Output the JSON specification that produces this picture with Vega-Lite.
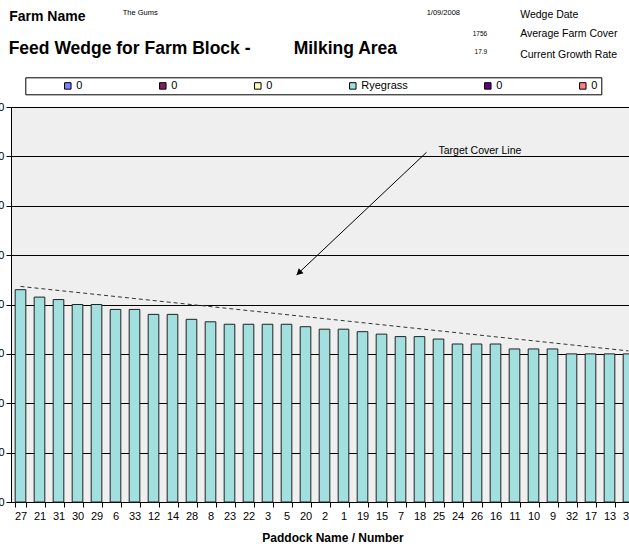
{
  "$schema": "https://vega.github.io/schema/vega-lite/v6.json",
  "width": 627,
  "height": 395,
  "autosize": {"type": "none"},
  "padding": {"left": 11, "top": 107, "right": -9, "bottom": 42},
  "background": "white",
  "config": {
    "font": "Liberation Sans",
    "view": {"stroke": "black", "strokeWidth": 1, "fill": "#efefef"},
    "axis": {"labelFont": "Liberation Sans", "titleFont": "Liberation Sans", "labelColor": "black", "titleColor": "black", "domainColor": "black", "tickColor": "black", "domainWidth": 1, "tickWidth": 1}
  },
  "datasets": {
    "wedge": [
      {"paddock": "27", "cover": 2150, "species": "Ryegrass"},
      {"paddock": "21", "cover": 2075, "species": "Ryegrass"},
      {"paddock": "31", "cover": 2050, "species": "Ryegrass"},
      {"paddock": "30", "cover": 2000, "species": "Ryegrass"},
      {"paddock": "29", "cover": 2000, "species": "Ryegrass"},
      {"paddock": "6", "cover": 1950, "species": "Ryegrass"},
      {"paddock": "33", "cover": 1950, "species": "Ryegrass"},
      {"paddock": "12", "cover": 1900, "species": "Ryegrass"},
      {"paddock": "14", "cover": 1900, "species": "Ryegrass"},
      {"paddock": "28", "cover": 1850, "species": "Ryegrass"},
      {"paddock": "8", "cover": 1825, "species": "Ryegrass"},
      {"paddock": "23", "cover": 1800, "species": "Ryegrass"},
      {"paddock": "22", "cover": 1800, "species": "Ryegrass"},
      {"paddock": "3", "cover": 1800, "species": "Ryegrass"},
      {"paddock": "5", "cover": 1800, "species": "Ryegrass"},
      {"paddock": "20", "cover": 1775, "species": "Ryegrass"},
      {"paddock": "2", "cover": 1750, "species": "Ryegrass"},
      {"paddock": "1", "cover": 1750, "species": "Ryegrass"},
      {"paddock": "19", "cover": 1725, "species": "Ryegrass"},
      {"paddock": "15", "cover": 1700, "species": "Ryegrass"},
      {"paddock": "7", "cover": 1675, "species": "Ryegrass"},
      {"paddock": "18", "cover": 1675, "species": "Ryegrass"},
      {"paddock": "25", "cover": 1650, "species": "Ryegrass"},
      {"paddock": "24", "cover": 1600, "species": "Ryegrass"},
      {"paddock": "26", "cover": 1600, "species": "Ryegrass"},
      {"paddock": "16", "cover": 1600, "species": "Ryegrass"},
      {"paddock": "11", "cover": 1550, "species": "Ryegrass"},
      {"paddock": "10", "cover": 1550, "species": "Ryegrass"},
      {"paddock": "9", "cover": 1550, "species": "Ryegrass"},
      {"paddock": "32", "cover": 1500, "species": "Ryegrass"},
      {"paddock": "17", "cover": 1500, "species": "Ryegrass"},
      {"paddock": "13", "cover": 1500, "species": "Ryegrass"},
      {"paddock": "34", "cover": 1500, "species": "Ryegrass"}
    ],
    "target": [
      {"paddock": "27", "cover": 2183},
      {"paddock": "34", "cover": 1530}
    ],
    "arrow": [
      {"paddock": "18", "cover": 3541, "paddock_end": "20", "cover_end": 2299}
    ],
    "arrowTip": [
      {"paddock": "20", "cover": 2299}
    ],
    "texts": [
      {"text": "Farm Name", "paddock": "27", "cover": 4874, "role": "heading"},
      {"text": "Feed Wedge for Farm Block -", "paddock": "27", "cover": 4534, "role": "title"},
      {"text": "Milking Area", "paddock": "20", "cover": 4540, "role": "title"},
      {"text": "The Gums", "paddock": "33", "cover": 4932, "role": "value"},
      {"text": "1/09/2008", "paddock": "25", "cover": 4932, "role": "value"},
      {"text": "1756", "paddock": "16", "cover": 4714, "role": "number"},
      {"text": "17.9", "paddock": "16", "cover": 4532, "role": "number"},
      {"text": "Wedge Date", "paddock": "10", "cover": 4906, "role": "field"},
      {"text": "Average Farm Cover", "paddock": "10", "cover": 4704, "role": "field"},
      {"text": "Current Growth Rate", "paddock": "10", "cover": 4496, "role": "field"},
      {"text": "Target Cover Line", "paddock": "25", "cover": 3554, "role": "note"}
    ]
  },
  "encoding": {
    "x": {
      "field": "paddock",
      "type": "nominal",
      "scale": {
        "domain": ["27", "21", "31", "30", "29", "6", "33", "12", "14", "28", "8", "23", "22", "3", "5", "20", "2", "1", "19", "15", "7", "18", "25", "24", "26", "16", "11", "10", "9", "32", "17", "13", "34"],
        "paddingInner": 0.44,
        "paddingOuter": 0.22
      },
      "axis": {
        "title": "Paddock Name / Number",
        "titleFontSize": 12,
        "titleFontWeight": "bold",
        "titlePadding": 11,
        "titleX": 321.5,
        "labelFontSize": 11,
        "labelAngle": 0,
        "labelPadding": 3,
        "labelOverlap": false,
        "tickSize": 5,
        "tickBand": "extent",
        "grid": false
      }
    },
    "y": {
      "field": "cover",
      "type": "quantitative",
      "scale": {"domain": [0, 4000], "nice": false},
      "axis": {
        "title": null,
        "values": [0, 500, 1000, 1500, 2000, 2500, 3000, 3500, 4000],
        "format": "d",
        "grid": true,
        "gridColor": "black",
        "gridOpacity": 1,
        "gridWidth": 1,
        "tickSize": 5,
        "labelPadding": 2,
        "labelFontSize": 11
      }
    }
  },
  "layer": [
    {
      "data": {"name": "wedge"},
      "mark": {"type": "bar", "stroke": "#222222", "strokeWidth": 1},
      "encoding": {
        "color": {
          "field": "species",
          "type": "nominal",
          "scale": {
            "domain": ["0", "0\u200b", "0\u200b\u200b", "Ryegrass", "0\u200b\u200b\u200b", "0            "],
            "range": ["#8080ff", "#802060", "#ffffc0", "#a2dfdf", "#600080", "#ff8080"]
          },
          "legend": {
            "orient": "none",
            "legendX": 14.3,
            "legendY": -29.7,
            "direction": "horizontal",
            "columns": 6,
            "columnPadding": 74,
            "title": " ",
            "titleOrient": "left",
            "titlePadding": 34,
            "padding": 3,
            "strokeColor": "black",
            "fillColor": "white",
            "symbolType": "square",
            "symbolSize": 42,
            "symbolStrokeColor": "black",
            "symbolStrokeWidth": 1,
            "labelFontSize": 11,
            "labelOffset": 3,
            "labelColor": "black"
          }
        }
      }
    },
    {
      "data": {"name": "target"},
      "mark": {"type": "line", "strokeDash": [4, 3], "color": "#333333", "strokeWidth": 1}
    },
    {
      "data": {"name": "arrow"},
      "mark": {"type": "rule", "color": "black", "strokeWidth": 1, "xOffset": 7, "x2Offset": -9},
      "encoding": {
        "x2": {"field": "paddock_end"},
        "y2": {"field": "cover_end"}
      }
    },
    {
      "data": {"name": "arrowTip"},
      "mark": {"type": "point", "shape": "triangle-up", "filled": true, "color": "black", "opacity": 1, "size": 50, "angle": 226.7, "xOffset": -6.6, "yOffset": -2.1}
    },
    {
      "data": {"name": "texts"},
      "transform": [{"filter": "datum.role === 'heading'"}],
      "mark": {"type": "text", "align": "left", "baseline": "alphabetic", "fontSize": 14, "fontWeight": "bold", "dx": -6, "color": "black"},
      "encoding": {"x": {"field": "paddock", "type": "nominal", "bandPosition": 0}, "text": {"field": "text"}}
    },
    {
      "data": {"name": "texts"},
      "transform": [{"filter": "datum.role === 'title'"}],
      "mark": {"type": "text", "align": "left", "baseline": "alphabetic", "fontSize": 17.5, "fontWeight": "bold", "dx": -6.5, "color": "black"},
      "encoding": {"x": {"field": "paddock", "type": "nominal", "bandPosition": 0}, "text": {"field": "text"}}
    },
    {
      "data": {"name": "texts"},
      "transform": [{"filter": "datum.role === 'value'"}],
      "mark": {"type": "text", "align": "left", "baseline": "alphabetic", "fontSize": 7.5, "dx": -6.5, "color": "black"},
      "encoding": {"x": {"field": "paddock", "type": "nominal", "bandPosition": 0}, "text": {"field": "text"}}
    },
    {
      "data": {"name": "texts"},
      "transform": [{"filter": "datum.role === 'number'"}],
      "mark": {"type": "text", "align": "right", "baseline": "alphabetic", "fontSize": 6.5, "dx": -3, "color": "black"},
      "encoding": {"x": {"field": "paddock", "type": "nominal", "bandPosition": 0}, "text": {"field": "text"}}
    },
    {
      "data": {"name": "texts"},
      "transform": [{"filter": "datum.role === 'field'"}],
      "mark": {"type": "text", "align": "left", "baseline": "alphabetic", "fontSize": 10.5, "dx": -8, "color": "black"},
      "encoding": {"x": {"field": "paddock", "type": "nominal", "bandPosition": 0}, "text": {"field": "text"}}
    },
    {
      "data": {"name": "texts"},
      "transform": [{"filter": "datum.role === 'note'"}],
      "mark": {"type": "text", "align": "left", "baseline": "middle", "fontSize": 10.5, "color": "black"},
      "encoding": {"text": {"field": "text"}}
    }
  ]
}
